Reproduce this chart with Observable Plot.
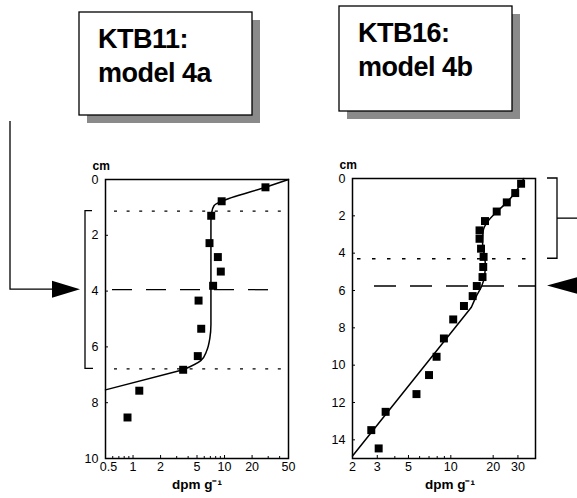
<!DOCTYPE html>
<html><head><meta charset="utf-8">
<script src="https://cdn.jsdelivr.net/npm/d3@7"></script>
<script src="https://cdn.jsdelivr.net/npm/@observablehq/plot@0.6"></script>
<style>
body{margin:0;background:#fff;}
#wrap{position:relative;width:577px;height:498px;overflow:hidden;font-family:"Liberation Sans",Arial,sans-serif;background:#fff;}
#wrap svg{position:absolute;top:0;}
</style></head><body><div id="wrap"></div>
<script>
// ---- KTB11 (model 4a) ----
const ktb11Depth = [0.28, 0.78, 1.30, 2.28, 2.78, 3.30, 3.81, 4.34, 5.35, 6.33, 6.82, 7.57, 8.53];
const ktb11Dpm   = [28, 9.3, 7.15, 6.85, 8.45, 9.1, 7.5, 5.2, 5.56, 5.1, 3.53, 1.17, 0.87];
// model curve (smooth part) and its straight tail
const model4aDepth = [0, 0.28, 0.78, 0.93, 1.17, 1.5, 3.0, 5.2, 5.7, 6.13, 6.49, 6.82];
const model4aDpm   = [50, 28, 9.3, 7.7, 7.25, 7.1, 7.1, 7.1, 6.9, 6.4, 5.5, 3.53];
const model4aTailDepth = [6.82, 7.54];
const model4aTailDpm   = [3.53, 0.5];
const ktb11Mixed  = [1.13, 6.79];   // dotted lines
const ktb11Dashed = 3.95;           // dashed line
const ktb11XTicks = [0.5, 1, 2, 5, 10, 20, 50];
const ktb11XMinor = [0.6, 0.7, 0.8, 0.9, 3, 4, 6, 7, 8, 9, 30, 40];
const ktb11YTicks = [0, 2, 4, 6, 8, 10];

// ---- KTB16 (model 4b) ----
const ktb16Depth = [0.28, 0.78, 1.28, 1.77, 2.28, 2.78, 3.23, 3.76, 4.2, 4.74, 5.28, 5.76, 6.3, 6.83, 7.55, 8.57, 9.55, 10.53, 11.55, 12.5, 13.48, 14.46];
const ktb16Dpm   = [31.6, 28.7, 25.0, 21.2, 17.5, 16.0, 16.0, 16.4, 17.1, 17.0, 16.8, 15.3, 14.3, 12.4, 10.4, 8.93, 7.92, 7.0, 5.7, 3.44, 2.72, 3.07];
const model4bDepth = [0, 0.28, 0.78, 1.28, 1.77, 2.3, 2.8, 3.4, 4.0, 4.6, 5.2, 5.8, 6.3, 6.9];
const model4bDpm   = [33, 31.5, 28.5, 25, 21.3, 18.3, 17.0, 16.8, 17.2, 17.6, 17.4, 16.5, 15.2, 14];
const model4bTailDepth = [6.9, 14.87];
const model4bTailDpm   = [14, 2];
const ktb16Mixed  = [4.3];
const ktb16Dashed = 5.76;
const ktb16XTicks = [2, 3, 5, 10, 20, 30];
const ktb16XMinor = [4, 6, 7, 8, 9, 40];
const ktb16YTicks = [0, 2, 4, 6, 8, 10, 12, 14];

const titles = [["KTB11:", "model 4a"], ["KTB16:", "model 4b"]];

const rows = (depths, dpms) => depths.map((d, i) => ({depth: d, dpm: dpms[i]}));

function panel(o) {
  const obs = rows(o.obsDepth, o.obsDpm);
  const mod = rows(o.modDepth, o.modDpm);
  const tail = rows(o.tailDepth, o.tailDpm);
  const firstTick = o.xTicks.slice(0, 1), otherTicks = o.xTicks.slice(1);
  return Plot.plot({
    width: o.width, height: 498,
    marginLeft: o.ml, marginRight: o.mr, marginTop: o.mt, marginBottom: o.mb,
    style: {fontFamily: "Liberation Sans, Arial, sans-serif", fontSize: "12px", background: "transparent", overflow: "visible", color: "black"},
    x: {type: "log", domain: o.xDomain},
    y: {domain: o.yDomain, reverse: true},
    marks: [
      Plot.ruleY(o.dotted, {stroke: "black", strokeDasharray: o.dotDash, strokeWidth: 1.3, insetLeft: o.dotInset[0], insetRight: o.dotInset[1]}),
      Plot.ruleY([o.dashed], {stroke: "black", strokeDasharray: o.dashDash, strokeWidth: 1.3, insetLeft: o.dashInset[0], insetRight: o.dashInset[1]}),
      Plot.axisX({ticks: firstTick, tickSize: 0, tickPadding: 4, tickFormat: d => String(d), label: null, fontSize: 12.5, dx: o.firstDx}),
      Plot.axisX({ticks: otherTicks, tickSize: 0, tickPadding: 4, tickFormat: d => String(d), label: null, fontSize: 12.5}),
      Plot.axisX({ticks: o.xTicks, tickSize: -3, tickFormat: () => "", label: null}),
      Plot.axisX({ticks: o.xMinor, tickSize: -2, tickFormat: () => "", label: null}),
      Plot.axisY({ticks: o.yTicks, tickSize: 0, tickPadding: 7, label: null, fontSize: 12.5}),
      Plot.axisY({ticks: o.yTicks, tickSize: -3, tickFormat: () => "", label: null}),
      Plot.frame({stroke: "black", strokeWidth: 1.5}),
      Plot.line(mod, {x: "dpm", y: "depth", curve: "monotone-y", stroke: "black", strokeWidth: 1.5}),
      Plot.line(tail, {x: "dpm", y: "depth", stroke: "black", strokeWidth: 1.5}),
      Plot.dot(obs, {x: "dpm", y: "depth", symbol: "square", fill: "black", r: 4.5}),
      Plot.text(["cm"], {frameAnchor: "top-left", dx: -13, dy: -18, fontWeight: "bold", fontSize: 12}),
      Plot.text(["dpm g⁻¹"], {frameAnchor: "bottom", dy: 30, dx: o.labelDx, fontWeight: "bold", fontSize: 13.5})
    ]
  });
}

const wrap = document.getElementById("wrap");

const left = panel({
  obsDepth: ktb11Depth, obsDpm: ktb11Dpm, modDepth: model4aDepth, modDpm: model4aDpm,
  tailDepth: model4aTailDepth, tailDpm: model4aTailDpm,
  xDomain: [0.5, 50], yDomain: [0, 10], xTicks: ktb11XTicks, xMinor: ktb11XMinor, yTicks: ktb11YTicks,
  width: 300, ml: 105, mr: 12, mt: 179, mb: 40,
  dotted: ktb11Mixed, dashed: ktb11Dashed, dotDash: "3,9.6", dashDash: "20,14",
  dotInset: [9, 4], dashInset: [7, 15], labelDx: 0, firstDx: 3
});
left.style.left = "0px";
wrap.appendChild(left);

const right = panel({
  obsDepth: ktb16Depth, obsDpm: ktb16Dpm, modDepth: model4bDepth, modDpm: model4bDpm,
  tailDepth: model4bTailDepth, tailDpm: model4bTailDpm,
  xDomain: [2, 40], yDomain: [0, 15], xTicks: ktb16XTicks, xMinor: ktb16XMinor, yTicks: ktb16YTicks,
  width: 277, ml: 52, mr: 42, mt: 178, mb: 40,
  dotted: ktb16Mixed, dashed: ktb16Dashed, dotDash: "3.5,11.5", dashDash: "22,14",
  dotInset: [5, 2], dashInset: [22, 0], labelDx: 6, firstDx: 0
});
right.style.left = "300px";
wrap.appendChild(right);

// ---- annotation overlay (boxes, brackets, arrows) positioned from the plots' scales ----
const yL = left.scale("y"), yR = right.scale("y");
const svg = d3.create("svg").attr("width", 577).attr("height", 498).style("left", "0px");

function box(x, y, w, h, lines) {
  svg.append("rect").attr("x", x + 8).attr("y", y + 8).attr("width", w).attr("height", h).attr("fill", "#8a8a8a");
  svg.append("rect").attr("x", x).attr("y", y).attr("width", w).attr("height", h).attr("fill", "white").attr("stroke", "black").attr("stroke-width", 1.3);
  lines.forEach((t, i) => svg.append("text").attr("x", x + 19).attr("y", y + 36 + i * 34)
    .attr("font-family", "Liberation Sans, Arial, sans-serif").attr("font-weight", "bold")
    .attr("font-size", 27).attr("letter-spacing", "-0.5").text(t));
}
box(79, 12, 173, 103, titles[0]);
box(339, 6, 173, 105, titles[1]);

const line = (pts) => svg.append("path").attr("d", d3.line()(pts)).attr("fill", "none").attr("stroke", "black").attr("stroke-width", 1.3);

// left arrow into the dashed depth
const yd = yL.apply(ktb11Dashed);
line([[10, 121], [10, yd], [54, yd]]);
svg.append("path").attr("d", d3.line()([[52, yd - 8.5], [80, yd], [52, yd + 8.5]]) + "Z").attr("fill", "black");
// left bracket over the mixed layer
const yb1 = yL.apply(ktb11Mixed[0]), yb2 = yL.apply(ktb11Mixed[1]);
line([[92, yb1], [85, yb1], [85, yb2], [93, yb2]]);

// right bracket 0 .. mixed-layer depth
const yr0 = yR.apply(0), yr1 = yR.apply(ktb16Mixed[0]);
line([[547, yr0], [557, yr0], [557, yr1], [547, yr1]]);
line([[557, (yr0 + yr1) / 2], [577, (yr0 + yr1) / 2]]);
const ydr = yR.apply(ktb16Dashed);
svg.append("path").attr("d", d3.line()([[547, ydr], [578, ydr - 8.5], [578, ydr + 8.5]]) + "Z").attr("fill", "black");

wrap.appendChild(svg.node());
</script>
</body></html>
